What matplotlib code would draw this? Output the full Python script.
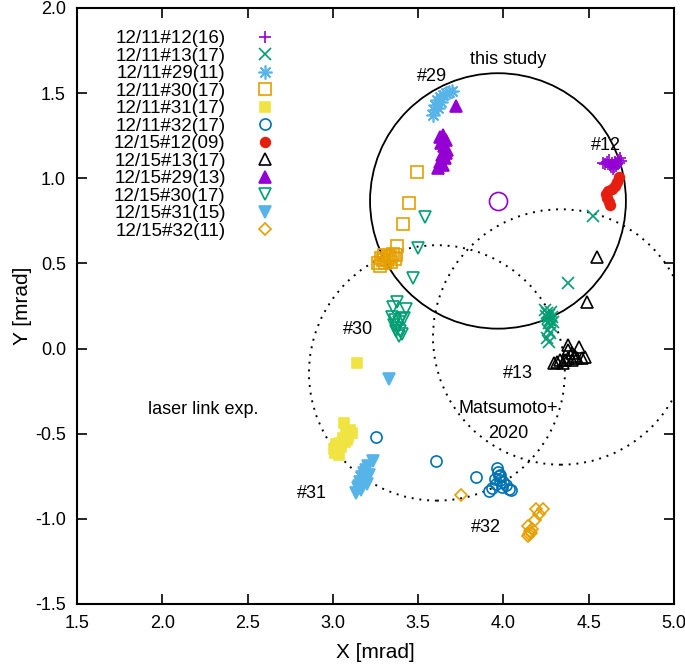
import numpy as np
import matplotlib
matplotlib.use('Agg')
from matplotlib import pyplot as plt
from matplotlib.patches import Circle

plt.rcParams['font.family'] = ['Liberation Sans', 'DejaVu Sans']
plt.rcParams['font.size'] = 13

# beam positions per shot (X, Y) in mrad
x_1211_12 = [4.583, 4.607, 4.624, 4.636, 4.648, 4.654, 4.665, 4.671, 4.683, 4.689, 4.618, 4.642, 4.659, 4.595, 4.677, 4.630]
y_1211_12 = [1.090, 1.096, 1.078, 1.090, 1.066, 1.096, 1.084, 1.107, 1.119, 1.102, 1.107, 1.055, 1.072, 1.084, 1.090, 1.066]

x_1211_13 = [4.525, 4.378, 4.243, 4.255, 4.267, 4.278, 4.261, 4.273, 4.249, 4.284, 4.267, 4.278, 4.290, 4.261, 4.273, 4.255, 4.267]
y_1211_13 = [0.779, 0.385, 0.227, 0.209, 0.197, 0.215, 0.180, 0.168, 0.191, 0.186, 0.150, 0.133, 0.156, 0.109, 0.092, 0.062, 0.039]

x_1211_29 = [3.587, 3.593, 3.598, 3.610, 3.628, 3.645, 3.663, 3.681, 3.698, 3.616, 3.634]
y_1211_29 = [1.372, 1.401, 1.430, 1.460, 1.477, 1.489, 1.501, 1.507, 1.513, 1.413, 1.448]

x_1211_30 = [3.493, 3.446, 3.411, 3.376, 3.264, 3.282, 3.300, 3.317, 3.335, 3.352, 3.364, 3.276, 3.305, 3.341, 3.323, 3.370, 3.294]
y_1211_30 = [1.037, 0.855, 0.732, 0.602, 0.503, 0.532, 0.550, 0.520, 0.538, 0.556, 0.526, 0.485, 0.503, 0.509, 0.544, 0.550, 0.520]

x_1211_31 = [3.141, 3.065, 3.077, 3.100, 3.112, 3.089, 3.059, 3.071, 3.042, 3.024, 3.006, 3.030, 3.047, 3.012, 3.036, 3.083, 3.018]
y_1211_31 = [-0.085, -0.437, -0.490, -0.478, -0.496, -0.519, -0.525, -0.548, -0.554, -0.572, -0.590, -0.601, -0.578, -0.613, -0.625, -0.537, -0.560]

x_1211_32 = [3.253, 3.604, 3.839, 3.962, 3.968, 3.974, 3.979, 3.956, 3.933, 3.915, 3.997, 4.015, 4.032, 3.991, 3.950, 3.979, 4.044]
y_1211_32 = [-0.519, -0.660, -0.754, -0.701, -0.725, -0.748, -0.772, -0.795, -0.819, -0.836, -0.783, -0.801, -0.824, -0.813, -0.766, -0.742, -0.830]

x_1215_12 = [4.677, 4.665, 4.654, 4.636, 4.613, 4.601, 4.607, 4.618, 4.624]
y_1215_12 = [1.008, 0.978, 0.955, 0.937, 0.925, 0.908, 0.884, 0.861, 0.843]

x_1215_13 = [4.548, 4.489, 4.378, 4.443, 4.378, 4.402, 4.296, 4.314, 4.331, 4.360, 4.378, 4.402, 4.431, 4.460, 4.478, 4.349, 4.419]
y_1215_13 = [0.538, 0.274, 0.021, 0.010, -0.008, -0.026, -0.085, -0.079, -0.067, -0.067, -0.055, -0.067, -0.055, -0.055, -0.049, -0.085, -0.043]

x_1215_29 = [3.722, 3.628, 3.645, 3.663, 3.634, 3.651, 3.669, 3.640, 3.657, 3.628, 3.645, 3.616, 3.663]
y_1215_29 = [1.425, 1.243, 1.254, 1.225, 1.207, 1.190, 1.166, 1.137, 1.119, 1.096, 1.078, 1.060, 1.149]

x_1215_30 = [3.540, 3.499, 3.470, 3.376, 3.352, 3.429, 3.346, 3.364, 3.387, 3.399, 3.358, 3.376, 3.393, 3.387, 3.405, 3.370, 3.417]
y_1215_30 = [0.773, 0.591, 0.415, 0.274, 0.244, 0.233, 0.186, 0.168, 0.156, 0.174, 0.139, 0.121, 0.103, 0.074, 0.086, 0.103, 0.180]

x_1215_31 = [3.329, 3.235, 3.206, 3.194, 3.182, 3.212, 3.171, 3.188, 3.159, 3.176, 3.200, 3.147, 3.165, 3.135, 3.153]
y_1215_31 = [-0.178, -0.660, -0.689, -0.713, -0.730, -0.742, -0.754, -0.772, -0.783, -0.801, -0.795, -0.819, -0.830, -0.848, -0.807]

x_1215_32 = [3.751, 4.190, 4.232, 4.208, 4.185, 4.144, 4.155, 4.149, 4.161, 4.167, 4.144]
y_1215_32 = [-0.860, -0.942, -0.942, -0.971, -1.006, -1.042, -1.071, -1.089, -1.083, -1.059, -1.100]

# fitted centres and radius of the three circles
study_center = (3.968, 0.867)
laser_center = (3.61, -0.143)
matsumoto_center = (4.337, 0.068)
radius = 0.75

fig = plt.figure(figsize=(6.85, 6.72), dpi=100)
ax = fig.add_axes([77 / 685, 1 - 604 / 672, 597 / 685, 596 / 672])

kw = dict(linestyle='none', markeredgewidth=1.2)
ax.plot(x_1211_12, y_1211_12, '+', color='#9400d3', ms=9, label='12/11#12(16)', **kw)
ax.plot(x_1211_13, y_1211_13, 'x', color='#009e73', ms=8, label='12/11#13(17)', **kw)
ax.plot(x_1211_29, y_1211_29, marker=(8, 2, 0), color='#56b4e9', ms=10, label='12/11#29(11)', **kw)
ax.plot(x_1211_30, y_1211_30, 's', color='#e69f00', mfc='none', ms=8, label='12/11#30(17)', **kw)
ax.plot(x_1211_31, y_1211_31, 's', color='#f0e442', ms=7, label='12/11#31(17)', **kw)
ax.plot(x_1211_32, y_1211_32, 'o', color='#0072b2', mfc='none', ms=8, label='12/11#32(17)', **kw)
ax.plot(x_1215_12, y_1215_12, 'o', color='#e51e10', ms=7, label='12/15#12(09)', **kw)
ax.plot(x_1215_13, y_1215_13, '^', color='black', mfc='none', ms=8, label='12/15#13(17)', **kw)
ax.plot(x_1215_29, y_1215_29, '^', color='#9400d3', ms=8, label='12/15#29(13)', **kw)
ax.plot(x_1215_30, y_1215_30, 'v', color='#009e73', mfc='none', ms=8, label='12/15#30(17)', **kw)
ax.plot(x_1215_31, y_1215_31, 'v', color='#56b4e9', ms=8, label='12/15#31(15)', **kw)
ax.plot(x_1215_32, y_1215_32, 'D', color='#e69f00', mfc='none', ms=6, label='12/15#32(11)', **kw)

# centre of this study
ax.plot([study_center[0]], [study_center[1]], 'o', color='#9400d3', mfc='none', ms=13, **kw)

ax.add_patch(Circle(study_center, radius, fill=False, color='black', lw=1.3))
ax.add_patch(Circle(laser_center, radius, fill=False, color='black', lw=1.4, linestyle=(0, (1, 3))))
ax.add_patch(Circle(matsumoto_center, radius, fill=False, color='black', lw=1.4, linestyle=(0, (1, 3))))

ax.text(4.03, 1.70, 'this study', ha='center', va='center')
ax.text(3.58, 1.60, '#29', ha='center', va='center')
ax.text(4.60, 1.195, '#12', ha='center', va='center')
ax.text(3.15, 0.11, '#30', ha='center', va='center')
ax.text(4.085, -0.149, '#13', ha='center', va='center')
ax.text(2.24, -0.355, 'laser link exp.', ha='center', va='center')
ax.text(4.03, -0.35, 'Matsumoto+', ha='center', va='center')
ax.text(4.03, -0.50, '2020', ha='center', va='center')
ax.text(2.88, -0.85, '#31', ha='center', va='center')
ax.text(3.90, -1.05, '#32', ha='center', va='center')

ax.set_xlim(1.5, 5.0)
ax.set_ylim(-1.5, 2.0)
ax.set_xticks(np.arange(1.5, 5.01, 0.5))
ax.set_yticks(np.arange(-1.5, 2.01, 0.5))
ax.xaxis.set_major_formatter(matplotlib.ticker.FormatStrFormatter('%.1f'))
ax.yaxis.set_major_formatter(matplotlib.ticker.FormatStrFormatter('%.1f'))
ax.tick_params(direction='in', length=7, width=1.2, top=True, right=True, pad=8)
for s in ax.spines.values():
    s.set_linewidth(1.5)
ax.set_xlabel('X [mrad]', fontsize=15, labelpad=8)
ax.set_ylabel('Y [mrad]', fontsize=15, labelpad=2)

ax.legend(loc='upper left', bbox_to_anchor=(0.04, 0.985), frameon=False, markerfirst=False,
          alignment='right', handlelength=1.0, handletextpad=1.6, labelspacing=0.02,
          borderpad=0.2, fontsize=13.5)

fig.savefig('out.png', dpi=100)
